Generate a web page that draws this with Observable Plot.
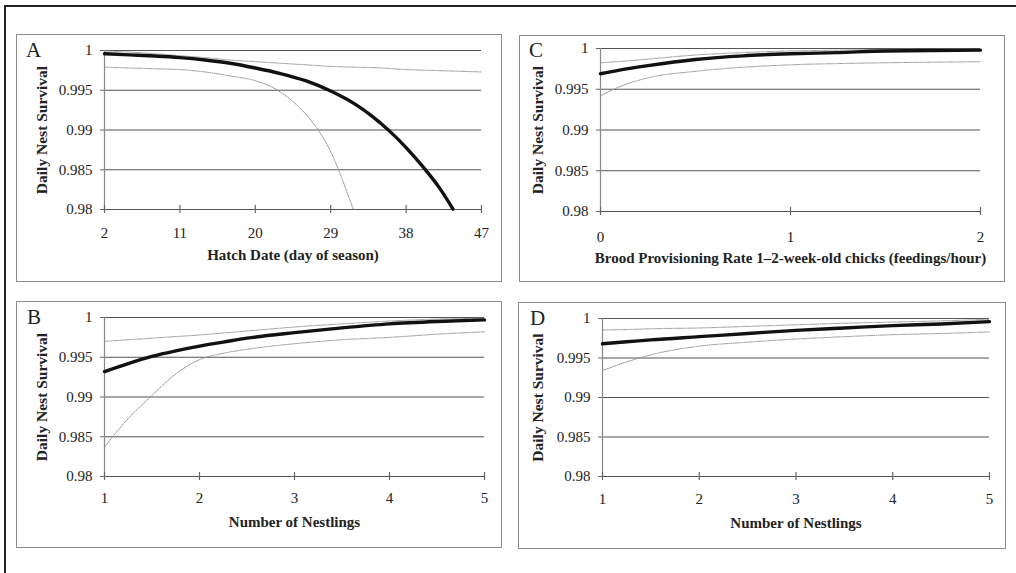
<!DOCTYPE html>
<html>
<head>
<meta charset="utf-8">
<script src="https://cdn.jsdelivr.net/npm/d3@7"></script>
<script src="https://cdn.jsdelivr.net/npm/@observablehq/plot@0.6"></script>
<style>
  html, body { margin: 0; padding: 0; background: #fff; }
  #fig { position: relative; width: 1016px; height: 573px; overflow: hidden; background: #fff; font-family: "Liberation Serif", "DejaVu Serif", serif; }
  .outer { position: absolute; left: 4px; top: 5px; width: 1100px; height: 700px; border-top: 2px solid #222; border-left: 2px solid #222; box-sizing: border-box; }
  .box { position: absolute; border: 1.5px solid #8c8c8c; box-sizing: border-box; }
  .panel { position: absolute; }
  .panel svg { overflow: visible; }
  .letter { position: absolute; font-family: "Liberation Serif", serif; font-size: 21px; color: #222; line-height: 1; }
</style>
</head>
<body>
<div id="fig"><div class="outer"></div></div>
<script>
// ---------- data ----------
const yTicks = [0.98, 0.985, 0.99, 0.995, 1];

// Panel A: hatch date
const hatchTicks = [2, 11, 20, 29, 38, 47];
const hatchEstX = [2, 5, 8, 11, 14, 17, 20, 23, 26, 29, 32, 34, 36, 38, 40, 42, 43.6];
const hatchEst  = [0.9996, 0.99945, 0.9993, 0.9991, 0.9988, 0.9984, 0.9978, 0.9971, 0.9962, 0.9949, 0.99319, 0.99169, 0.98989, 0.98779, 0.98539, 0.98269, 0.98005];
const hatchUpX  = [2, 5, 8, 11, 14, 17, 20, 23, 26, 29, 32, 35, 38, 41, 44, 47];
const hatchUp   = [0.99995, 0.9998, 0.9996, 0.99935, 0.9991, 0.9988, 0.9986, 0.9984, 0.9982, 0.9980, 0.9979, 0.9978, 0.9976, 0.9975, 0.9974, 0.9973];
const hatchLoX  = [2, 5, 8, 11, 14, 17, 20, 22, 23.5, 25, 26.5, 27.5, 28.5, 29.5, 30.3, 31, 31.7];
const hatchLo   = [0.9979, 0.9978, 0.9977, 0.9976, 0.9973, 0.9968, 0.9962, 0.9954, 0.9944, 0.9931, 0.9914, 0.9900, 0.9883, 0.9861, 0.9840, 0.9820, 0.9800];

// Panel C: brood provisioning rate
const rateTicks = [0, 1, 2];
const rateX   = [0, 0.1, 0.25, 0.5, 0.75, 1, 1.25, 1.5, 1.75, 2];
const rateEst = [0.9969, 0.99735, 0.9979, 0.99865, 0.9991, 0.99935, 0.9995, 0.9997, 0.99975, 0.9998];
const rateUp  = [0.99825, 0.9984, 0.9987, 0.9992, 0.9995, 0.9997, 0.9998, 0.99988, 0.99993, 0.99996];
const rateLo  = [0.9942, 0.9953, 0.9964, 0.9972, 0.9977, 0.9980, 0.99815, 0.99825, 0.99832, 0.99838];

// Panel B: number of nestlings
const nestTicks = [1, 2, 3, 4, 5];
const nestBX   = [1, 1.25, 1.5, 1.75, 2, 2.25, 2.5, 3, 3.5, 4, 4.5, 5];
const nestBEst = [0.9932, 0.9942, 0.9951, 0.9958, 0.9964, 0.9969, 0.9974, 0.9981, 0.9987, 0.9992, 0.9995, 0.9997];
const nestBUp  = [0.9970, 0.9972, 0.9974, 0.9976, 0.9978, 0.99805, 0.9983, 0.9988, 0.9992, 0.99955, 0.9998, 0.9999];
const nestBLo  = [0.9837, 0.9873, 0.9902, 0.9929, 0.9947, 0.9955, 0.9960, 0.9967, 0.9972, 0.9975, 0.9979, 0.9982];

// Panel D: number of nestlings
const nestDX   = [1, 1.25, 1.5, 2, 2.5, 3, 3.5, 4, 4.5, 5];
const nestDEst = [0.9968, 0.99705, 0.9973, 0.9977, 0.9981, 0.9985, 0.9988, 0.9991, 0.9993, 0.9996];
const nestDUp  = [0.99855, 0.9986, 0.9987, 0.9988, 0.9990, 0.9992, 0.9994, 0.99955, 0.9997, 0.9999];
const nestDLo  = [0.9934, 0.9945, 0.9954, 0.9965, 0.9970, 0.9974, 0.9977, 0.99795, 0.9981, 0.9983];

const yLabel = "Daily Nest Survival";
const panels = [
  {letter: "A", xLabel: "Hatch Date (day of season)", xDomain: [2, 47], xTicks: hatchTicks,
   est: hatchEstX.map((x, i) => ({x, y: hatchEst[i]})),
   up: hatchUpX.map((x, i) => ({x, y: hatchUp[i]})),
   lo: hatchLoX.map((x, i) => ({x, y: hatchLo[i]})),
   box: {left: 16, top: 34, width: 486, height: 248},
   m: {l: 88, r: 21, t: 16, b: 73}, tickPad: 18, yLabDx: -62, xLabDy: 50, letterPos: [26, 40]},
  {letter: "C", xLabel: "Brood Provisioning Rate 1\u20132-week-old chicks (feedings/hour)", xDomain: [0, 2], xTicks: rateTicks,
   est: rateX.map((x, i) => ({x, y: rateEst[i]})),
   up: rateX.map((x, i) => ({x, y: rateUp[i]})),
   lo: rateX.map((x, i) => ({x, y: rateLo[i]})),
   box: {left: 519, top: 35, width: 486, height: 247},
   m: {l: 81, r: 25, t: 13, b: 71}, tickPad: 20, yLabDx: -62, xLabDy: 51, letterPos: [529, 40]},
  {letter: "B", xLabel: "Number of Nestlings", xDomain: [1, 5], xTicks: nestTicks,
   est: nestBX.map((x, i) => ({x, y: nestBEst[i]})),
   up: nestBX.map((x, i) => ({x, y: nestBUp[i]})),
   lo: nestBX.map((x, i) => ({x, y: nestBLo[i]})),
   box: {left: 16, top: 301, width: 486, height: 247},
   m: {l: 88, r: 18, t: 16, b: 72}, tickPad: 16, yLabDx: -62, xLabDy: 50, letterPos: [27, 307]},
  {letter: "D", xLabel: "Number of Nestlings", xDomain: [1, 5], xTicks: nestTicks,
   est: nestDX.map((x, i) => ({x, y: nestDEst[i]})),
   up: nestDX.map((x, i) => ({x, y: nestDUp[i]})),
   lo: nestDX.map((x, i) => ({x, y: nestDLo[i]})),
   box: {left: 518, top: 302, width: 488, height: 247},
   m: {l: 84, r: 17, t: 16, b: 73}, tickPad: 17, yLabDx: -64, xLabDy: 51, letterPos: [530, 308]}
];

const fig = document.getElementById("fig");
const yDomain = [0.98, 1];
const serif = "'Liberation Serif', 'DejaVu Serif', serif";

for (const p of panels) {
  const {left, top, width, height} = p.box;
  const box = document.createElement("div");
  box.className = "box";
  Object.assign(box.style, {left: left + "px", top: top + "px", width: width + "px", height: height + "px"});
  fig.appendChild(box);

  const plotH = height - p.m.t - p.m.b;
  const tickHalf = (yDomain[1] - yDomain[0]) / plotH * 4; // 4px either side of the baseline

  const chart = Plot.plot({
    width, height,
    marginLeft: p.m.l, marginRight: p.m.r, marginTop: p.m.t, marginBottom: p.m.b,
    style: {fontFamily: serif, fontSize: "15px", color: "#222", background: "transparent", overflow: "visible"},
    x: {domain: p.xDomain},
    y: {domain: yDomain},
    marks: [
      Plot.ruleY(yTicks, {y: d => d, x1: p.xDomain[0], x2: p.xDomain[1], stroke: "#555", strokeWidth: 1.2}),
      Plot.ruleX([p.xDomain[0]], {y1: yDomain[0], y2: yDomain[1], stroke: "#888", strokeWidth: 1.2}),
      Plot.ruleX(p.xTicks, {x: d => d, y1: yDomain[0] - tickHalf, y2: yDomain[0] + tickHalf, stroke: "#666", strokeWidth: 1.2}),
      Plot.axisY(yTicks, {tickSize: 4, tickPadding: 8, stroke: "#666", tickFormat: d => String(d), label: null, fill: "#222", fontSize: 15, fontFamily: serif}),
      Plot.axisX(p.xTicks, {tickSize: 0, tickPadding: p.tickPad, tickFormat: d => String(d), label: null, fill: "#222", fontSize: 15, fontFamily: serif}),
      Plot.line(p.up, {x: "x", y: "y", stroke: "#8f8f8f", strokeWidth: 1, strokeDasharray: "1,1.2", curve: "monotone-x"}),
      Plot.line(p.lo, {x: "x", y: "y", stroke: "#8f8f8f", strokeWidth: 1, strokeDasharray: "1,1.2", curve: "monotone-x"}),
      Plot.line(p.est, {x: "x", y: "y", stroke: "#111", strokeWidth: 3.4, curve: "monotone-x"}),
      Plot.text([p.xLabel], {frameAnchor: "bottom", dy: p.xLabDy, fontWeight: "bold", fontSize: 15, fontFamily: serif, fill: "#222"}),
      Plot.text([yLabel], {frameAnchor: "left", dx: p.yLabDx, rotate: -90, textAnchor: "middle", fontWeight: "bold", fontSize: 15.5, fontFamily: serif, fill: "#222"})
    ]
  });
  const wrap = document.createElement("div");
  wrap.className = "panel";
  Object.assign(wrap.style, {left: left + "px", top: top + "px", width: width + "px", height: height + "px"});
  wrap.appendChild(chart);
  fig.appendChild(wrap);

  const letter = document.createElement("div");
  letter.className = "letter";
  letter.textContent = p.letter;
  letter.style.left = p.letterPos[0] + "px";
  letter.style.top = p.letterPos[1] + "px";
  fig.appendChild(letter);
}
</script>
</body>
</html>
